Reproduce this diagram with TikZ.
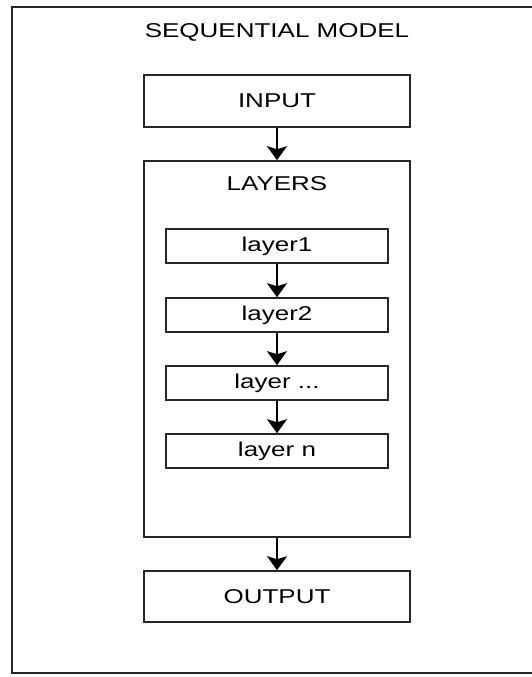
\documentclass[tikz,border=0pt]{standalone}
\usepackage{fontspec}
\setmainfont{Liberation Sans}[FakeStretch=1.3]
\usetikzlibrary{arrows.meta, positioning}

\begin{document}
\begin{tikzpicture}[
  x=1pt, y=-1pt,
  font=\fontsize{20}{24}\selectfont,
  blocco/.style={draw=black!85, line width=1.6pt, fill=white, align=center,
                 inner sep=0pt, minimum width=266pt, minimum height=52pt},
  strato/.style={blocco, minimum width=222pt, minimum height=34pt},
  collegamento/.style={draw=black, line width=1.4pt,
                       -{Stealth[width=20pt, length=14pt, inset=3pt]}}
]

% Riquadro dell'immagine: il bordo destro della cornice resta fuori,
% tagliato come nell'originale.
\useasboundingbox (0,0) rectangle (532,677);

% ---- cornice esterna -----------------------------------------------
\draw[draw=black!85, line width=1.8pt] (12,7) rectangle (542,673);

\node (titolo) at (277,32) {SEQUENTIAL MODEL};

% ---- blocchi -------------------------------------------------------
\node[blocco] (ingresso) at (277,101)   {INPUT};
\node[blocco, minimum height=376pt] (strati) at (277,349) {};
\node (titolostrati) at (277,184) {LAYERS};

\node[strato] (s1) at (277,246) {layer1};
\node[strato] (s2) at (277,315) {layer2};
\node[strato] (s3) at (277,383) {layer ...};
\node[strato] (sn) at (277,451) {layer n};

\node[blocco, minimum height=51pt] (uscita) at (277,596.5) {OUTPUT};

% ---- collegamenti --------------------------------------------------
\draw[collegamento] (ingresso.south) -- (strati.north);
\draw[collegamento] (s1.south) -- (s2.north);
\draw[collegamento] (s2.south) -- (s3.north);
\draw[collegamento] (s3.south) -- (sn.north);
\draw[collegamento] (strati.south) -- (uscita.north);

\end{tikzpicture}
\end{document}
